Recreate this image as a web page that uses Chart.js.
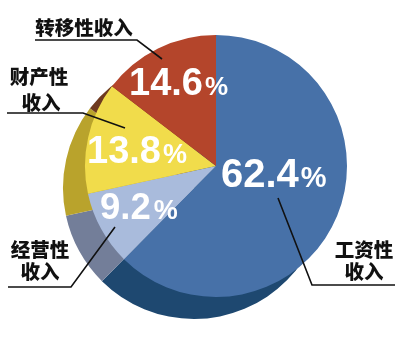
<!DOCTYPE html>
<html><head><meta charset="utf-8">
<script src="https://cdn.jsdelivr.net/npm/chart.js@4/dist/chart.umd.min.js"></script>
<style>
html,body{margin:0;padding:0;background:#fff;}
#wrap{position:relative;width:400px;height:356px;}
canvas{position:absolute;left:0;top:0;}
</style></head>
<body>
<div id="wrap">
<canvas id="back" width="400" height="356"></canvas>
<canvas id="front" width="400" height="356"></canvas>
</div>
<script>
const categories = ['工资性收入', '经营性收入', '财产性收入', '转移性收入'];
const shares = [62.4, 9.2, 13.8, 14.6];
const shareLabels = ['62.4', '9.2', '13.8', '14.6'];
const frontColors = ['#4771a8', '#a9bbdc', '#f1dc4b', '#b4452b'];
const backColors = ['#1e4870', '#737e99', '#b9a32c', '#6f3a1f'];

Chart.defaults.animation = false;

function pieConfig(colors, padding, plugins) {
  return {
    type: 'pie',
    data: { labels: categories, datasets: [{ data: shares, backgroundColor: colors, borderWidth: 0 }] },
    options: {
      responsive: false, animation: false,
      layout: { padding: padding },
      plugins: { legend: { display: false }, tooltip: { enabled: false } }
    },
    plugins: plugins || []
  };
}

const labelPlugin = {
  id: 'labels',
  afterDatasetsDraw(chart) {
    const ctx = chart.ctx;
    ctx.save();
    // percentage labels (white)
    const pct = [
      { t: shareLabels[0], x: 221, y: 187, s: 40, ps: 29, g: 2 },
      { t: shareLabels[1], x: 100, y: 218.5, s: 36.5, ps: 27, g: 3 },
      { t: shareLabels[2], x: 87, y: 163, s: 38, ps: 27, g: 2 },
      { t: shareLabels[3], x: 129, y: 95, s: 38, ps: 26, g: 2 }
    ];
    ctx.fillStyle = '#ffffff';
    ctx.textBaseline = 'alphabetic';
    ctx.textAlign = 'left';
    pct.forEach(p => {
      ctx.font = 'bold ' + p.s + 'px "Liberation Sans", Arial, sans-serif';
      ctx.fillText(p.t, p.x, p.y);
      const w = ctx.measureText(p.t).width;
      ctx.font = 'bold ' + p.ps + 'px "Liberation Sans", Arial, sans-serif';
      ctx.fillText('%', p.x + w + p.g, p.y);
    });
    // leader lines
    ctx.strokeStyle = '#111';
    ctx.lineWidth = 1.6;
    const lines = [
      [[35, 40], [137, 40], [162, 59]],
      [[7, 113], [83, 113], [125, 128]],
      [[8, 287], [71, 287], [115, 227]],
      [[395, 285], [312, 285], [278, 198]]
    ];
    lines.forEach(l => {
      ctx.beginPath();
      ctx.moveTo(l[0][0], l[0][1]);
      for (let i = 1; i < l.length; i++) ctx.lineTo(l[i][0], l[i][1]);
      ctx.stroke();
    });
    // category labels (black)
    ctx.fillStyle = '#111';
    ctx.textAlign = 'center';
    ctx.textBaseline = 'middle';
    ctx.font = '900 19.5px "Noto Sans CJK SC", sans-serif';
    ctx.fillText(categories[3], 84, 28);
    ctx.fillText(categories[2].slice(0, 3), 39, 77);
    ctx.fillText(categories[2].slice(3), 41, 103);
    ctx.fillText(categories[1].slice(0, 3), 40, 250);
    ctx.fillText(categories[1].slice(3), 40, 272);
    ctx.fillText(categories[0].slice(0, 3), 364, 250);
    ctx.fillText(categories[0].slice(3), 364, 272);
    ctx.restore();
  }
};

new Chart(document.getElementById('back'),
  pieConfig(backColors, { left: 63, right: 75, top: 57, bottom: 37 }));
new Chart(document.getElementById('front'),
  pieConfig(frontColors, { left: 85, right: 53, top: 35, bottom: 59 }, [labelPlugin]));
</script>
</body></html>
